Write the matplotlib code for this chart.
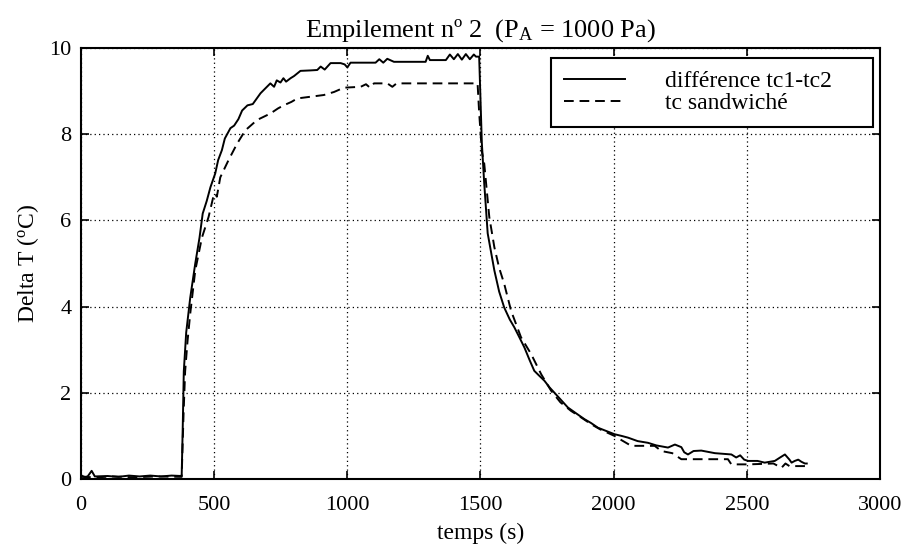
import matplotlib
matplotlib.use("Agg")
import matplotlib.pyplot as plt

# Police Times-like pour tout le graphique
plt.rcParams["font.family"] = ["Liberation Serif", "DejaVu Serif"]
plt.rcParams["mathtext.fontset"] = "custom"
plt.rcParams["mathtext.rm"] = "Liberation Serif"
plt.rcParams["mathtext.it"] = "Liberation Serif:italic"

# --------------------------------------------------------------
# DONNÉES MESURÉES
# --------------------------------------------------------------
# différence tc1-tc2
t_diff = [0, 15, 25, 40, 52, 100, 140, 180, 220, 260, 300, 340, 378, 382, 386,
          395, 410, 429, 445, 457, 472, 486, 504, 515, 529, 540, 561, 575, 591,
          605, 625, 645, 674, 690, 711, 725, 735, 749, 760, 770, 787, 800, 824,
          860, 887, 900, 915, 937, 975, 990, 1000, 1012, 1106, 1120, 1135, 1150,
          1175, 1294, 1302, 1310, 1370, 1385, 1400, 1415, 1430, 1445, 1460, 1475,
          1483, 1495, 1505, 1514, 1527, 1552, 1570, 1589, 1610, 1627, 1645, 1665,
          1685, 1702, 1720, 1740, 1760, 1778, 1800, 1828, 1860, 1890, 1915, 1941,
          1970, 2003, 2030, 2054, 2090, 2129, 2160, 2204, 2230, 2254, 2265, 2279,
          2300, 2329, 2380, 2442, 2460, 2475, 2490, 2505, 2540, 2567, 2605, 2625,
          2643, 2660, 2668, 2680, 2693, 2705, 2718, 2725]
dT_diff = [0.08, 0.05, 0.06, 0.19, 0.06, 0.07, 0.05, 0.08, 0.06, 0.08, 0.06, 0.08,
           0.07, 1.2, 2.5, 3.4, 4.2, 5.0, 5.6, 6.16, 6.45, 6.77, 7.09, 7.4, 7.63,
           7.9, 8.14, 8.2, 8.35, 8.55, 8.67, 8.7, 8.95, 9.05, 9.18, 9.1, 9.25, 9.2,
           9.3, 9.22, 9.3, 9.35, 9.47, 9.48, 9.49, 9.57, 9.5, 9.65, 9.65, 9.62,
           9.55, 9.66, 9.66, 9.74, 9.66, 9.75, 9.68, 9.68, 9.82, 9.72, 9.72, 9.85,
           9.74, 9.86, 9.73, 9.86, 9.74, 9.85, 9.8, 9.8, 7.8, 6.86, 5.7, 4.84,
           4.35, 3.98, 3.7, 3.52, 3.3, 3.05, 2.75, 2.51, 2.4, 2.28, 2.12, 2.0, 1.85,
           1.66, 1.52, 1.39, 1.3, 1.19, 1.12, 1.04, 1.0, 0.96, 0.88, 0.84, 0.78,
           0.73, 0.8, 0.74, 0.62, 0.57, 0.65, 0.66, 0.6, 0.57, 0.5, 0.55, 0.45,
           0.42, 0.42, 0.38, 0.42, 0.5, 0.57, 0.45, 0.38, 0.42, 0.45, 0.4, 0.36,
           0.36]

# tc sandwiché
t_sand = [0, 60, 120, 200, 280, 378, 385, 391, 400, 410, 429, 454, 479, 498, 504,
          510, 523, 554, 586, 617, 661, 711, 740, 761, 790, 812, 862, 912, 950,
          987, 1050, 1070, 1085, 1100, 1150, 1169, 1185, 1489, 1495, 1505, 1514,
          1533, 1552, 1570, 1589, 1615, 1652, 1690, 1728, 1765, 1800, 1840, 1880,
          1916, 1950, 2003, 2030, 2066, 2154, 2179, 2220, 2254, 2429, 2442, 2505,
          2600, 2630, 2645, 2660, 2725]
dT_sand = [0.05, 0.04, 0.06, 0.04, 0.06, 0.05, 1.5, 2.5, 3.2, 3.83, 4.84, 5.6,
           6.08, 6.58, 6.63, 6.55, 7.0, 7.4, 7.78, 8.09, 8.33, 8.48, 8.6, 8.67,
           8.75, 8.83, 8.87, 8.91, 8.98, 9.08, 9.1, 9.16, 9.08, 9.18, 9.18, 9.1,
           9.18, 9.18, 8.5, 7.6, 7.32, 6.08, 5.38, 4.9, 4.53, 3.9, 3.29, 2.9, 2.43,
           2.05, 1.78, 1.58, 1.42, 1.27, 1.15, 1.0, 0.9, 0.77, 0.77, 0.65, 0.6,
           0.46, 0.46, 0.34, 0.34, 0.36, 0.26, 0.36, 0.3, 0.3]

x_ticks = [0, 500, 1000, 1500, 2000, 2500, 3000]
y_ticks = [0, 2, 4, 6, 8, 10]

# --------------------------------------------------------------
# TRACÉ
# --------------------------------------------------------------
fig = plt.figure(figsize=(9.06, 5.52), dpi=100)
ax = fig.add_axes([0.0894, 0.1322, 0.8819, 0.7808])

ax.plot(t_diff, dT_diff, color="black", linewidth=1.4, label="différence tc1-tc2")
ax.plot(t_sand, dT_sand, color="black", linewidth=1.4, linestyle=(0, (5, 3)),
        label="tc sandwiché")

ax.set_xlim(0, 3000)
ax.set_ylim(0, 10)
ax.set_xticks(x_ticks)
ax.set_yticks(y_ticks)
ax.tick_params(direction="in", top=True, right=True, length=6, width=1.2,
               labelsize=16)
ax.tick_params(axis="x", pad=12)
ax.tick_params(axis="y", pad=7)
ax.grid(True, color="black", linestyle=(0, (1, 2.5)), linewidth=0.9)
for spine in ax.spines.values():
    spine.set_linewidth(1.5)

ax.set_title("Empilement nº 2  (P$_\\mathrm{A}$ = 1000 Pa)", fontsize=19, pad=8)
ax.set_xlabel("temps (s)", fontsize=17, labelpad=6)
ax.set_ylabel("Delta T ($^\\mathrm{o}$C)", fontsize=17, labelpad=6)

# légende élargie jusqu'au bord droit, texte aligné à gauche
leg = ax.legend(loc="upper left", bbox_to_anchor=(0.588, 0.81, 0.403, 0.167),
                mode="expand", borderaxespad=0, fontsize=17, handlelength=2.6,
                handletextpad=1.7, fancybox=False, framealpha=1,
                borderpad=0.55, labelspacing=0.0)
leg.get_frame().set_edgecolor("black")
leg.get_frame().set_linewidth(1.5)

fig.savefig("out.png", dpi=100)
